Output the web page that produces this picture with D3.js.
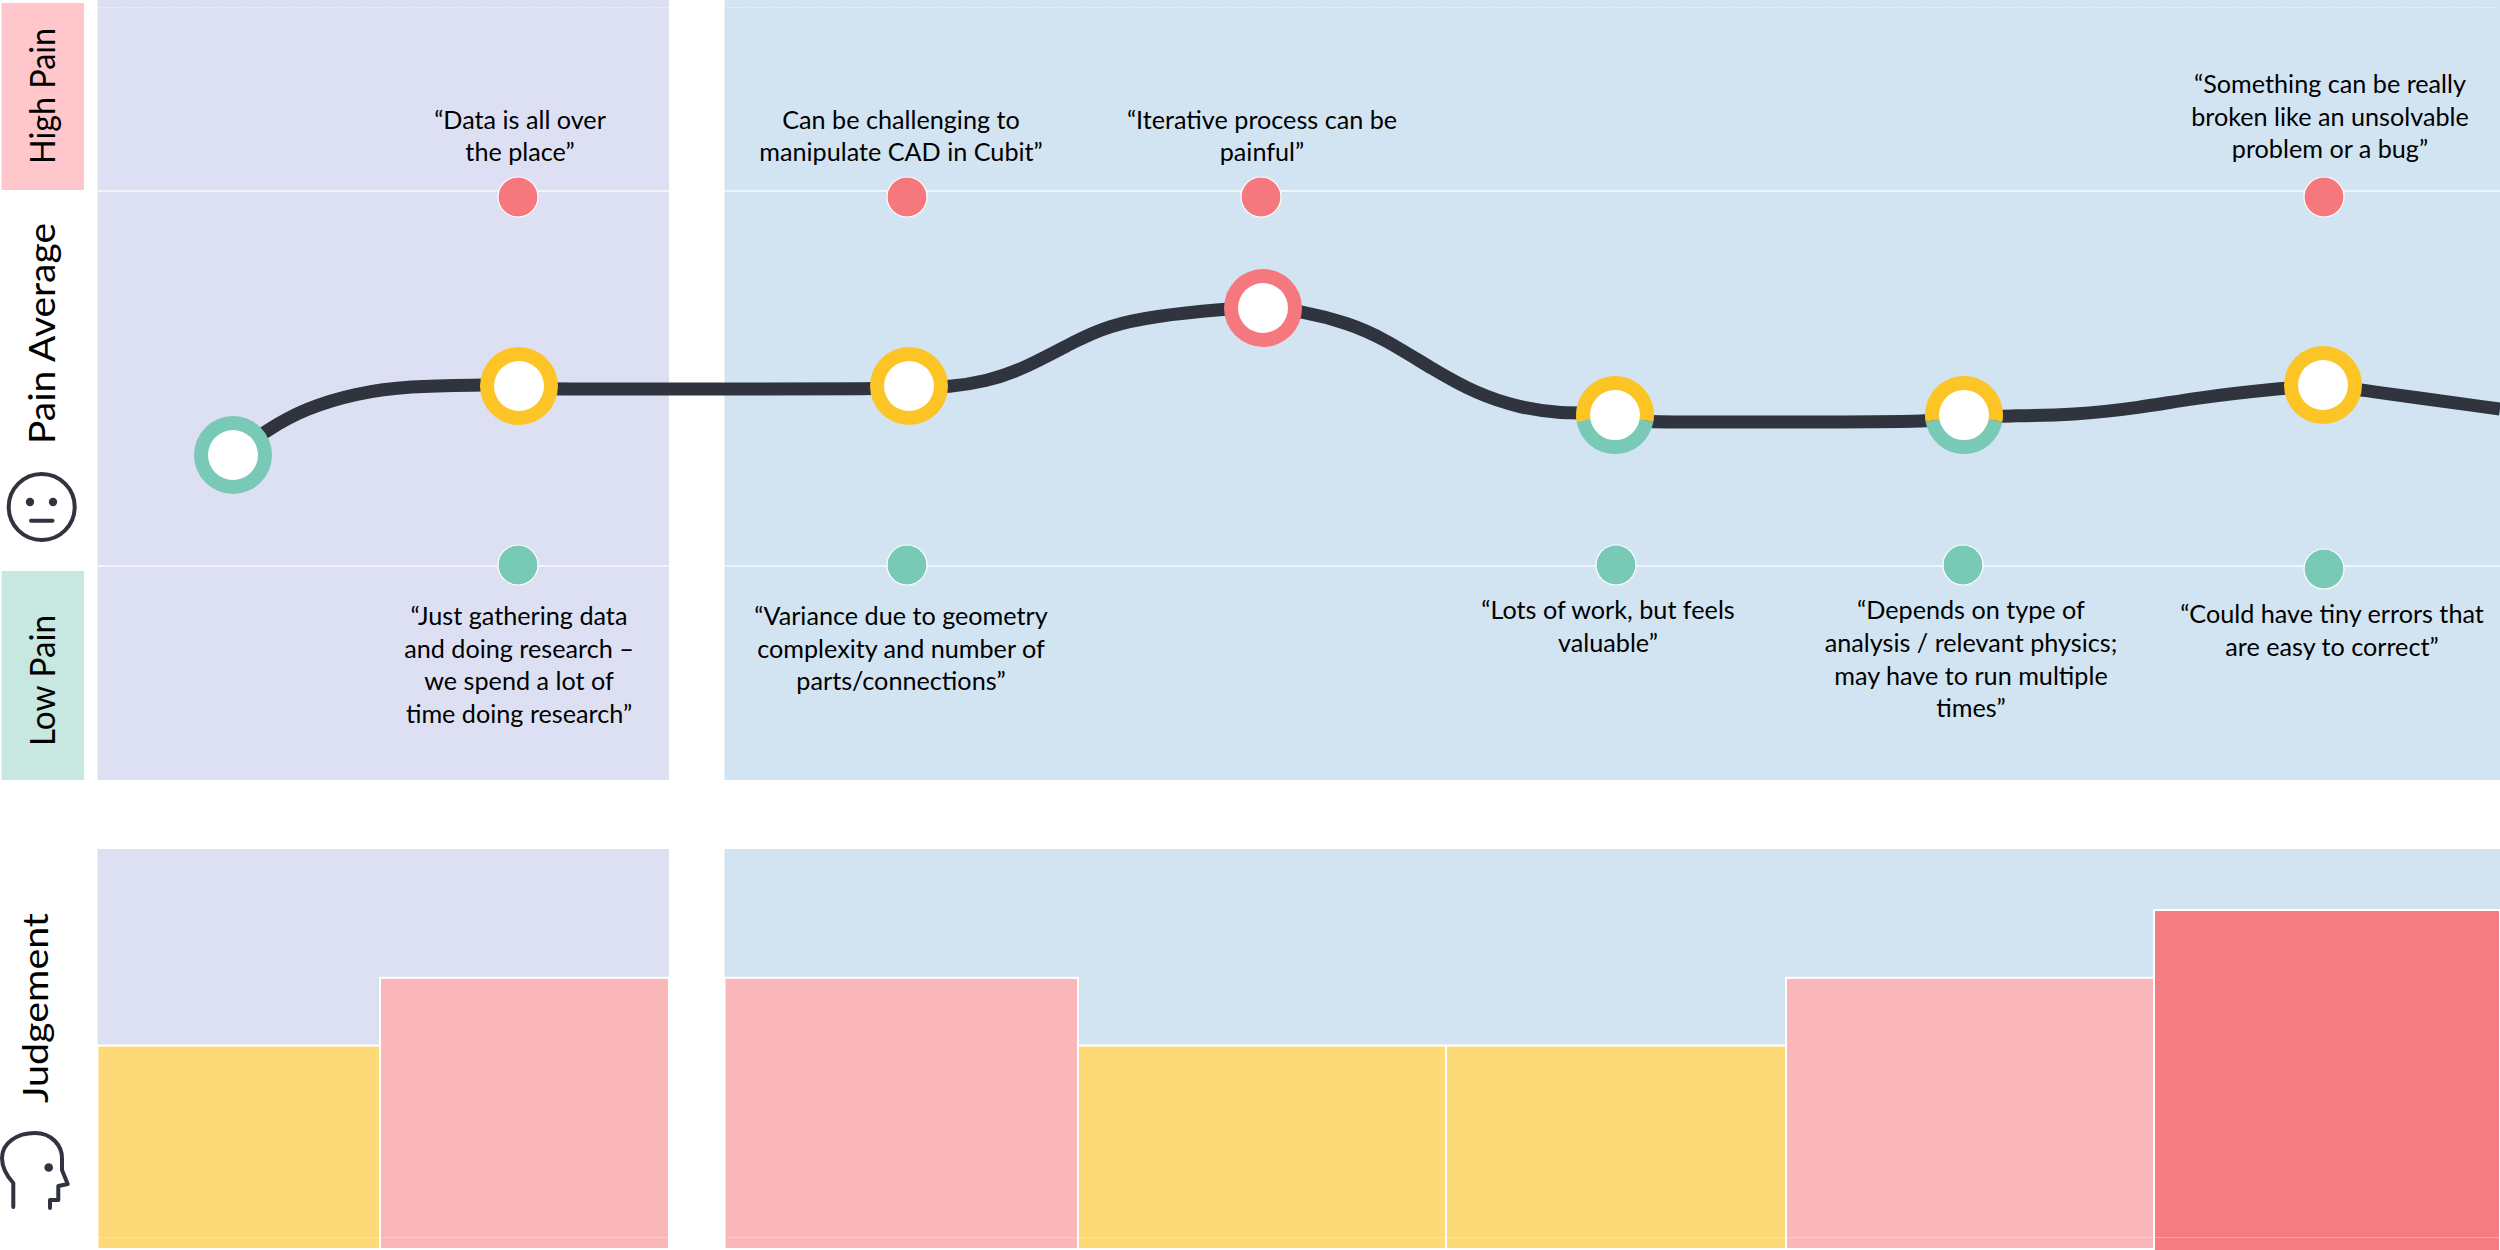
<!DOCTYPE html>
<html><head><meta charset="utf-8">
<script src="https://cdn.jsdelivr.net/npm/d3@7/dist/d3.min.js"></script>
<style>html,body{margin:0;padding:0;background:#fff}svg{display:block}</style>
</head><body><svg id="c" width="2500" height="1250"></svg>
<script>
// ---- data ----
const curveX = [9.32,10.6,12.24,14.28,16.32,19.2,20.2,21.4,22.4,28.8,35.2,37,37.88,39.4,41.04,43.08,44.32,46.16,49,50.52,52.08,53.92,55.32,57.36,59,60.8,62.4,63.6,65.6,66.6,72,77.4,79.4,80.4,82.96,85.52,88.04,91.36,92.92,94.44,100];
const curvePain = [29.33,35.73,41.87,45.87,47.73,48,48,46.93,46.93,46.93,46.93,47.47,47.47,48.8,52.53,60,63.73,66.4,68.27,68.8,67.73,64.53,60.53,52,45.87,41.87,40.53,40.53,38.13,38.13,38.13,38.13,39.73,39.73,40,41.87,44.8,47.2,48,46.67,41.6];
const markerX = [9.32,20.76,36.36,50.52,64.6,78.56,92.92];
const markerPain = [29.33,47.73,47.73,68.53,40,40,48];
const markerLevel = ["low","mid","mid","high","midlow","midlow","mid"];
const highDotX = [20.72,36.28,50.44,92.96];
const highDotPain = [98.13,98.13,98.13,98.13];
const lowDotX = [20.72,36.28,64.64,78.52,92.96];
const lowDotPain = [0,0,0,0,-1.07];
const quotes = [
 ["“Data is all over","the place”"],
 ["Can be challenging to","manipulate CAD in Cubit”"],
 ["“Iterative process can be","painful”"],
 ["“Something can be really","broken like an unsolvable","problem or a bug”"],
 ["“Just gathering data","and doing research –","we spend a lot of","time doing research”"],
 ["“Variance due to geometry","complexity and number of","parts/connections”"],
 ["“Lots of work, but feels","valuable”"],
 ["“Depends on type of","analysis / relevant physics;","may have to run multiple","times”"],
 ["“Could have tiny errors that","are easy to correct”"]
];
const quoteX = [20.8,36.04,50.48,93.2,20.76,36.04,64.32,78.84,93.28];
const quotePain = [116.4,116.4,116.4,125.87,-16,-16,-14.5,-14.5,-15.47];
const barStart = [3.9,15.2,28.98,43.12,57.84,71.44,86.16];
const barEnd = [15.2,26.76,43.12,57.84,71.44,86.16,100];
const barLevel = [3,4,4,3,3,4,5];
const barColor = {3:"#fdd978",4:"#fab7ba",5:"#f67c83"};
const panelStart = [3.9,28.98];
const panelEnd = [26.76,100];
const panelColor = ["#dde0f2","#d2e4f2"];
const guidePain = [100,0];

// ---- scales ----
const svg = d3.select("#c");
const x = d3.scaleLinear().domain([0,100]).range([0,2500]);
const y = d3.scaleLinear().domain([0,100]).range([565,190]);
const j = d3.scaleLinear().domain([0,5]).range([1249,910]);
const FONT = "Lato, Carlito, sans-serif";
const Q = 25.2, LH = 32.7;

// panels
const topPanelBottom = 780, botPanelTop = 849, botPanelBottom = 1248;
panelStart.forEach((s,i)=>{
  svg.append("rect").attr("x",x(s)).attr("y",0).attr("width",x(panelEnd[i])-x(s)).attr("height",topPanelBottom).attr("fill",panelColor[i]);
  svg.append("rect").attr("x",x(s)).attr("y",botPanelTop).attr("width",x(panelEnd[i])-x(s)).attr("height",botPanelBottom-botPanelTop).attr("fill",panelColor[i]);
  guidePain.forEach(p=>svg.append("line").attr("x1",x(s)).attr("x2",x(panelEnd[i]))
     .attr("y1",y(p)+1).attr("y2",y(p)+1).attr("stroke","#fff").attr("stroke-width",1.6).attr("opacity",.85));
  svg.append("line").attr("x1",x(s)).attr("x2",x(panelEnd[i])).attr("y1",7.5).attr("y2",7.5)
     .attr("stroke","#fff").attr("stroke-width",1).attr("stroke-dasharray","1.5 1.5").attr("opacity",.6);
});

// left label boxes
svg.append("rect").attr("x",1.5).attr("y",3).attr("width",82.5).attr("height",187).attr("fill","#ffc7cb");
svg.append("rect").attr("x",1.5).attr("y",571).attr("width",82.5).attr("height",209).attr("fill","#c7e8e1");

function vlabel(txt,bx,yBottom,yTop,size){
  svg.append("text").text(txt)
    .attr("transform",`translate(${bx},${yBottom}) rotate(-90)`)
    .attr("font-family",FONT).attr("font-size",size).attr("fill","#000")
    .attr("textLength",yBottom-yTop).attr("lengthAdjust","spacingAndGlyphs");
}
vlabel("High Pain",54.5,164,28,35);
vlabel("Low Pain",54.5,746,615,35);
vlabel("Pain Average",55,444,223,37);
vlabel("Judgement",48,1103,913,34);

// bars
svg.append("g").selectAll("rect").data(barLevel).join("rect")
  .attr("x",(d,i)=>x(barStart[i])).attr("width",(d,i)=>x(barEnd[i])-x(barStart[i]))
  .attr("y",d=>j(d)).attr("height",d=>(d===5?1252:1249)-j(d))
  .attr("fill",d=>barColor[d]).attr("stroke","#fff").attr("stroke-width",2);
// faint base rule across bars
panelStart.forEach((s,i)=>svg.append("line").attr("x1",x(s)).attr("x2",x(panelEnd[i])).attr("y1",1237.5).attr("y2",1237.5)
  .attr("stroke","#fff").attr("stroke-width",1).attr("opacity",.3));

// line
svg.append("path").datum(curveX.map((v,i)=>[v,curvePain[i]]))
  .attr("d",d3.line().x(d=>x(d[0])).y(d=>y(d[1])).curve(d3.curveBasis))
  .attr("fill","none").attr("stroke","#30343f").attr("stroke-width",13);

// small dots
const dots = svg.append("g");
highDotX.forEach((v,i)=>dots.append("circle").attr("cx",x(v)).attr("cy",y(highDotPain[i])).attr("r",20).attr("fill","#f6787f").attr("stroke","#fff").attr("stroke-width",1.2));
lowDotX.forEach((v,i)=>dots.append("circle").attr("cx",x(v)).attr("cy",y(lowDotPain[i])).attr("r",20).attr("fill","#78c9b5").attr("stroke","#fff").attr("stroke-width",1.2));

// markers
const ringColor = {low:"#78c9b5",mid:"#fdc425",high:"#f6787f"};
const ring = d3.arc().innerRadius(25).outerRadius(39);
const splitA = 100*Math.PI/180;
markerX.forEach((v,i)=>{
  const g = svg.append("g").attr("transform",`translate(${x(v)},${y(markerPain[i])})`);
  g.append("circle").attr("r",27).attr("fill","#fff");
  const lv = markerLevel[i];
  if(lv==="midlow"){
    g.append("path").attr("d",ring({startAngle:splitA,endAngle:2*Math.PI-splitA})).attr("fill",ringColor.low);
    g.append("path").attr("d",ring({startAngle:-splitA,endAngle:splitA})).attr("fill",ringColor.mid);
  } else {
    g.append("path").attr("d",ring({startAngle:0,endAngle:2*Math.PI})).attr("fill",ringColor[lv]);
  }
});

// quotes
quotes.forEach((lines,i)=>{
  const t = svg.append("text").attr("font-family",FONT).attr("font-size",Q).attr("fill","#000").attr("text-anchor","middle");
  lines.forEach((l,k)=>t.append("tspan").attr("x",x(quoteX[i])).attr("y",y(quotePain[i])+k*LH).text(l));
});

// icons
const ink = "#30343f";
const face = svg.append("g").attr("fill","none").attr("stroke",ink).attr("stroke-width",4);
face.append("circle").attr("cx",41.7).attr("cy",507).attr("r",33);
face.append("line").attr("x1",31).attr("x2",52.5).attr("y1",520.7).attr("y2",520.7).attr("stroke-linecap","round");
[30,53].forEach(cx=>svg.append("circle").attr("cx",cx).attr("cy",502).attr("r",4.2).attr("fill",ink));
svg.append("path").attr("d","M13.3 1207 V1183 C5 1174 2 1167 2 1158 C2 1143 17 1133 35 1133 C52 1133 62 1146 62 1158 V1170 L67.7 1184 L58.3 1186 V1200 H50 V1208")
  .attr("fill","none").attr("stroke",ink).attr("stroke-width",4).attr("stroke-linecap","round").attr("stroke-linejoin","round");
svg.append("circle").attr("cx",48.7).attr("cy",1167.5).attr("r",4.3).attr("fill",ink);
</script></body></html>
